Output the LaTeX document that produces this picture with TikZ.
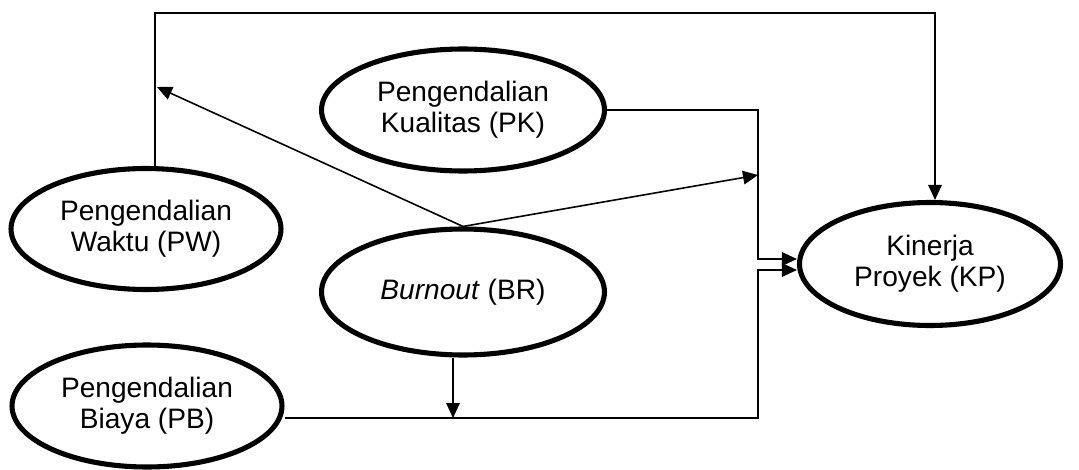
\documentclass[tikz,border=0pt]{standalone}
\usepackage{fontspec}
\setmainfont{Liberation Sans}
\usetikzlibrary{shapes,arrows.meta,positioning,calc}

\begin{document}
\begin{tikzpicture}[x=0.02cm,y=-0.02cm,
  var/.style={ellipse,draw,line width=2.9pt,inner sep=0pt,align=center,
    font=\fontsize{16}{17.5}\selectfont},
  arr/.style={-{Triangle[length=0.3cm,width=0.27cm]},line width=0.9pt}]
 \useasboundingbox (0,0) rectangle (1079,470);
 % variabel
 \node[var,minimum width=5.66cm,minimum height=2.44cm] (PK) at (463,110) {Pengendalian\\Kualitas (PK)};
 \node[var,minimum width=5.4cm,minimum height=2.42cm] (PW) at (146,229) {Pengendalian\\Waktu (PW)};
 \node[var,minimum width=5.66cm,minimum height=2.52cm] (BR) at (463,292) {\textit{Burnout} (BR)};
 \node[var,minimum width=5.4cm,minimum height=2.44cm] (PB) at (147,406) {Pengendalian\\Biaya (PB)};
 \node[var,minimum width=5.22cm,minimum height=2.46cm] (KP) at (930,264) {Kinerja\\Proyek (KP)};
 % titik bantu
 \coordinate (tl) at (155,13);
 \coordinate (tr) at (935,13);
 \coordinate (pw line) at (157,87);
 \coordinate (jn) at (758,175);
 \coordinate (k1) at ($(KP.west)+(0,-5)$);
 \coordinate (k2) at ($(KP.west)+(0,6)$);
 \coordinate (pb out) at ($(PB.east)+(0,12)$);
 \coordinate (br out) at ($(BR.south)+(-10,0)$);
 % hubungan
 \draw[arr] (tl |- PW.north) -- (tl) -- (tr) -- (tr |- KP.north);
 \draw[arr] (BR.north) -- (pw line);
 \draw[arr] (BR.north) -- (jn);
 \draw[arr] (PK.east) -| (k1 -| jn) -- (k1);
 \draw[arr] (pb out) -| (k2 -| jn) -- (k2);
 \draw[arr] (br out) -- (br out |- pb out);
\end{tikzpicture}
\end{document}
